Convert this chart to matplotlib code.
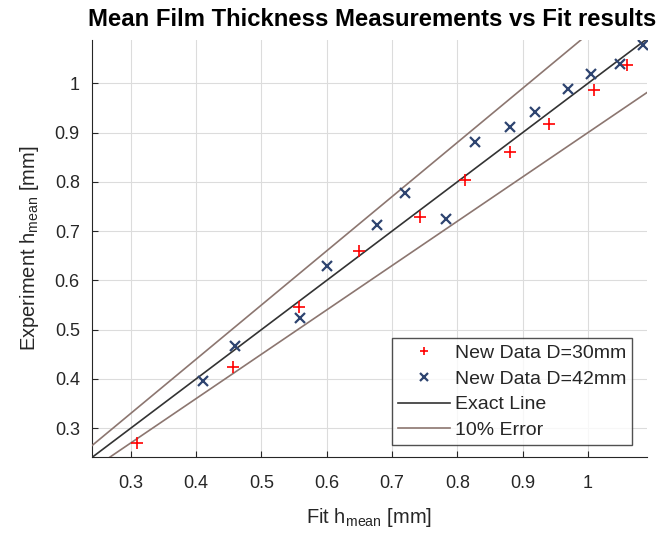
import numpy as np
import matplotlib
matplotlib.use('Agg')
import matplotlib.pyplot as plt

plt.rcParams['font.family'] = ['Liberation Sans', 'DejaVu Sans']

# data
fit_30 = [0.310, 0.457, 0.557, 0.650, 0.743, 0.812, 0.880, 0.940, 1.010, 1.060]
exp_30 = [0.270, 0.425, 0.546, 0.659, 0.729, 0.803, 0.860, 0.917, 0.986, 1.038]
fit_42 = [0.410, 0.460, 0.559, 0.600, 0.677, 0.720, 0.782, 0.827, 0.881, 0.919, 0.970, 1.004, 1.049, 1.085]
exp_42 = [0.395, 0.466, 0.524, 0.629, 0.713, 0.778, 0.725, 0.880, 0.912, 0.941, 0.989, 1.020, 1.040, 1.077]

xlim = (0.241, 1.090)
ylim = (0.242, 1.088)
xline = np.array([0.2, 1.2])

txt = '#262626'
fig = plt.figure(figsize=(6.72, 5.34), dpi=100)
ax = fig.add_axes([0.1374, 0.1448, 0.8249, 0.7802])

ax.plot(fit_30, exp_30, '+', color='#ff0000', ms=8, mew=1.2, label='New Data D=30mm', zorder=4)
ax.plot(fit_42, exp_42, 'x', color='#2e4470', ms=7, mew=1.6, label='New Data D=42mm', zorder=4)
ax.plot(xline, xline, '-', color='#333333', lw=1.2, label='Exact Line', zorder=3)
ax.plot(xline, 1.1 * xline, '-', color='#8c7670', lw=1.2, label='10% Error', zorder=3)
ax.plot(xline, 0.9 * xline, '-', color='#8c7670', lw=1.2, zorder=3)

ax.set_xlim(*xlim)
ax.set_ylim(*ylim)
ax.set_xticks(np.arange(0.3, 1.01, 0.1))
ax.set_xticklabels(['0.3', '0.4', '0.5', '0.6', '0.7', '0.8', '0.9', '1'])
ax.set_yticks(np.arange(0.3, 1.01, 0.1))
ax.set_yticklabels(['0.3', '0.4', '0.5', '0.6', '0.7', '0.8', '0.9', '1'])
ax.tick_params(direction='in', length=4, labelsize=13, colors=txt)
ax.tick_params(axis='x', pad=13)
ax.tick_params(axis='y', pad=9)
ax.grid(True, color='#dcdcdc', lw=0.8)
ax.set_axisbelow(True)
for s in ['top', 'right']:
    ax.spines[s].set_visible(False)
for s in ['left', 'bottom']:
    ax.spines[s].set_color(txt)

ax.set_xlabel(r'Fit h$_{\mathregular{mean}}$ [mm]', fontsize=14.5, color=txt, labelpad=10)
ax.set_ylabel(r'Experiment h$_{\mathregular{mean}}$ [mm]', fontsize=14.5, color=txt, labelpad=10)
ax.set_title('Mean Film Thickness Measurements vs Fit results', fontsize=17.2, fontweight='bold',
             color='black', pad=10, x=0.505)

leg = ax.legend(loc='lower right', fontsize=14, frameon=True, fancybox=False, edgecolor=txt,
                borderpad=0.3, labelspacing=0.42, handlelength=2.7, handletextpad=0.25,
                markerscale=0.75, borderaxespad=0, bbox_to_anchor=(0.974, 0.028))
leg.get_frame().set_linewidth(1.0)
for t in leg.get_texts():
    t.set_color(txt)

plt.savefig('out.png', dpi=100)
